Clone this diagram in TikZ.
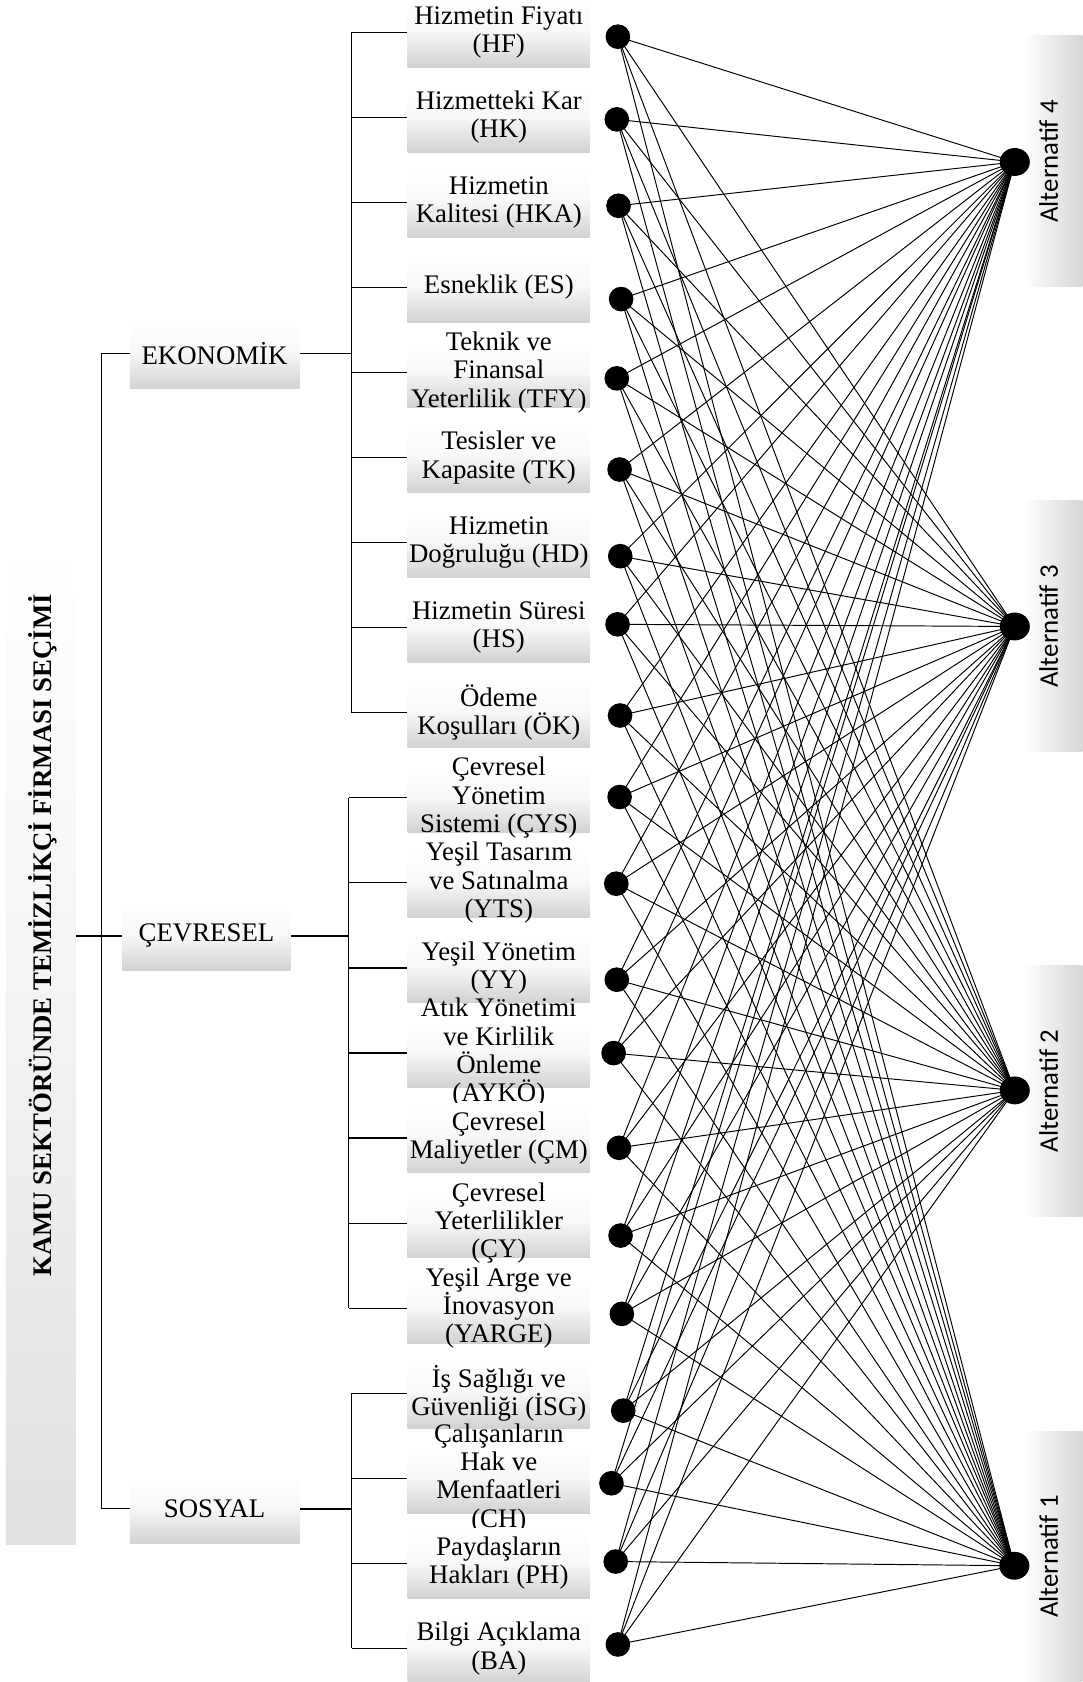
\documentclass[tikz,border=0pt]{standalone}
\usepackage{fontspec}
\setmainfont{Liberation Serif}
\newfontfamily\altfont{Carlito}
\usetikzlibrary{shapes.geometric}

\tikzset{
 cbox/.style={rectangle, inner sep=0, minimum width=170, minimum height=65, top color=white, bottom color=black!18, middle color=black!3},
 ctext/.style={align=center, inner sep=0, font=\fontsize{25}{26.4}\selectfont},
 catbox/.style={rectangle, inner sep=0, minimum width=158, minimum height=65, top color=white, bottom color=black!18, middle color=black!3, font=\fontsize{25}{26.4}\selectfont},
 titlebox/.style={rectangle, inner sep=0, minimum width=65, minimum height=940, top color=white, bottom color=black!12, middle color=black!5},
 titletext/.style={rotate=90, inner sep=0, font=\fontsize{25}{30}\selectfont\bfseries},
 altbox/.style={rectangle, inner sep=0, minimum width=55, minimum height=234, left color=white, right color=black!16},
 alttext/.style={rotate=90, inner sep=0, font=\altfont\fontsize{25}{30}\selectfont},
 cdot/.style={circle, fill=black, inner sep=0, minimum size=23},
 adot/.style={ellipse, fill=black, inner sep=0, minimum width=28, minimum height=26},
 link/.style={line width=0.9pt},
 tree/.style={line width=1.1pt},
 treebold/.style={line width=1.7pt},
}

\begin{document}
\begin{tikzpicture}[x=1pt, y=-1pt]
\useasboundingbox (0,0) rectangle (1009,1568);

% title
\node[titlebox] (tbox) at (38,970) {};
\node[titletext] (title) at (40,872) {KAMU SEKTÖRÜNDE TEMİZLİKÇİ FİRMASI SEÇİMİ};

% categories
\node[catbox] (ekon) at (200,329.5) {EKONOMİK};
\node[catbox, minimum width=157] (cev) at (192.5,872.5) {ÇEVRESEL};
\node[catbox] (sos) at (200,1406.5) {SOSYAL};

% criteria boxes and texts
\foreach \i/\t in {
 1/{Hizmetin Fiyatı\\(HF)},
 2/{Hizmetteki Kar\\(HK)},
 3/{Hizmetin\\Kalitesi (HKA)},
 4/{Esneklik (ES)},
 5/{Teknik ve\\Finansal\\Yeterlilik (TFY)},
 6/{Tesisler ve\\Kapasite (TK)},
 7/{Hizmetin\\Doğruluğu (HD)},
 8/{Hizmetin Süresi\\(HS)},
 9/{Ödeme\\Koşulları (ÖK)},
 10/{Çevresel\\Yönetim\\Sistemi (ÇYS)},
 11/{Yeşil Tasarım\\ve Satınalma\\(YTS)},
 12/{Yeşil Yönetim\\(YY)},
 13/{Atık Yönetimi\\ve Kirlilik\\Önleme\\(AYKÖ)},
 14/{Çevresel\\Maliyetler (ÇM)},
 15/{Çevresel\\Yeterlilikler\\(ÇY)},
 16/{Yeşil Arge ve\\İnovasyon\\(YARGE)},
 17/{İş Sağlığı ve\\Güvenliği (İSG)},
 18/{Çalışanların\\Hak ve\\Menfaatleri\\(CH)},
 19/{Paydaşların\\Hakları (PH)},
 20/{Bilgi Açıklama\\(BA)}}
{
 \pgfmathsetmacro{\yy}{30+79.3*(\i-1)}
 \node[cbox] (b\i) at (465,\yy) {};
 \node[ctext] (t\i) at (465,\yy) {\t};
}

% tree connectors
\coordinate (mbar) at (95,329.5);
\coordinate (ebar) at (328,329.5);
\coordinate (cbar) at (325,872.5);
\coordinate (sbar) at (328,1406.5);

\draw[tree] (ekon.west) -- (mbar) -- (mbar |- sos.west) -- (sos.west);
\draw[tree] (tbox.east |- cev.west) -- (cev.west);

\draw[treebold] (ekon.east) -- (ebar);
\draw[treebold] (cev.east) -- (cbar);
\draw[treebold] (sos.east) -- (sbar);

\draw[tree] (ebar |- b1.west) -- (ebar |- b9.west);
\foreach \i in {1,...,9} \draw[tree] (ebar |- b\i.west) -- (b\i.west);
\draw[tree] (cbar |- b10.west) -- (cbar |- b16.west);
\foreach \i in {10,...,16} \draw[tree] (cbar |- b\i.west) -- (b\i.west);
\draw[tree] (sbar |- b17.west) -- (sbar |- b20.west);
\foreach \i in {17,...,20} \draw[tree] (sbar |- b\i.west) -- (b\i.west);

% alternative boxes
\node[altbox] (ab4) at (981.5,150.5) {};
\node[alttext] (at4) at (977.6,150.5) {Alternatif 4};
\node[altbox] (ab3) at (981.5,584) {};
\node[alttext] (at3) at (977.6,584) {Alternatif 3};
\node[altbox] (ab2) at (981.5,1017) {};
\node[alttext] (at2) at (977.6,1017) {Alternatif 2};
\node[altbox] (ab1) at (981.5,1451) {};
\node[alttext] (at1) at (977.6,1451) {Alternatif 1};

% criterion dots
\foreach \i/\dx/\dy in {
 1/576/34.2, 2/575/111.3, 3/576.6/191.8, 4/579/278.8, 5/575/352.7,
 6/577.6/437.7, 7/578.2/518.5, 8/575.7/582, 9/578/667, 10/577.6/743,
 11/574.5/823.8, 12/575/913.3, 13/572/981.7, 14/577/1070, 15/578.5/1151.8,
 16/579.7/1224.8, 17/581/1315, 18/570/1382.7, 19/574/1455.7, 20/576/1533}
 \node[cdot] (c\i) at (\dx,\dy) {};

% alternative dots
\node[adot] (a4) at (946,151) {};
\node[adot] (a3) at (946,584) {};
\node[adot] (a2) at (946,1016.5) {};
\node[adot] (a1) at (945.6,1459.6) {};

% links
\foreach \i in {1,...,20}
 \foreach \j in {1,...,4}
  \draw[link] (c\i.center) -- (a\j.center);
\end{tikzpicture}
\end{document}
